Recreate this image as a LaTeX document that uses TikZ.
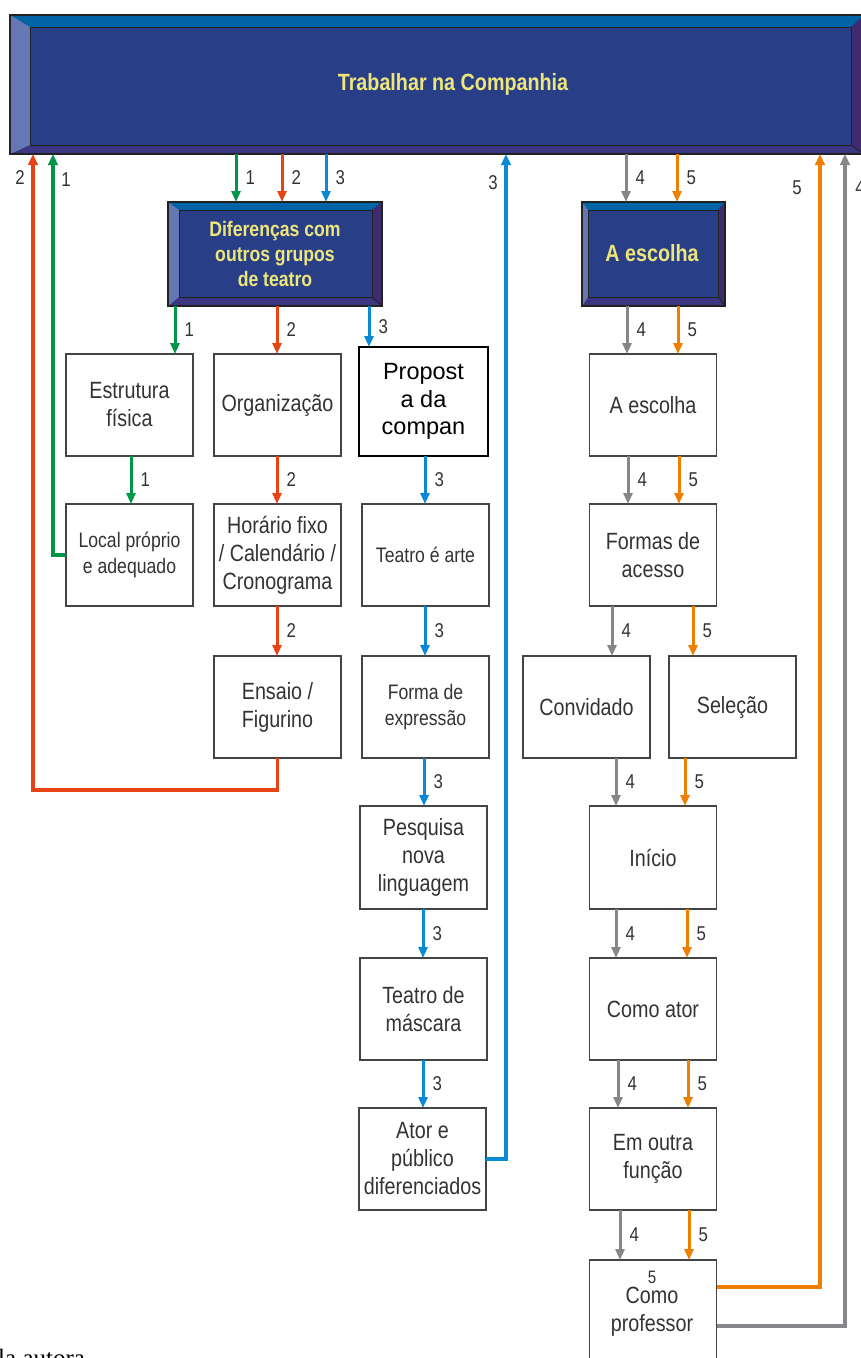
\documentclass[tikz,border=0pt]{standalone}
\usepackage{fontspec}
\setmainfont{Liberation Sans}
\newfontfamily\nar[FakeStretch=0.84]{Liberation Sans}
\newfontfamily\serifx{Liberation Serif}
\usetikzlibrary{arrows.meta}
\definecolor{cgreen}{HTML}{009648}
\definecolor{cred}{HTML}{E64414}
\definecolor{cblue}{HTML}{0A8AD4}
\definecolor{cgray}{HTML}{85878A}
\definecolor{corange}{HTML}{EE7F00}
\definecolor{dkfill}{HTML}{283F88}
\definecolor{bvtop}{HTML}{0064A6}
\definecolor{bvleft}{HTML}{6678B4}
\definecolor{bvbot}{HTML}{3B3682}
\definecolor{bvright}{HTML}{3F2B70}
\definecolor{dkedge}{HTML}{222222}
\definecolor{ylw}{HTML}{EEE67A}
\definecolor{txt}{HTML}{333333}
\definecolor{boxedge}{HTML}{444444}
\newcommand\bevelbox[9]{%
  \fill[bvbot] (#2,#3) rectangle (#4,#5);
  \fill[bvtop] (#2,#3) -- (#4,#3) -- (#8,#7) -- (#6,#7) -- cycle;
  \fill[bvleft] (#2,#3) -- (#6,#7) -- (#6,#9) -- (#2,#5) -- cycle;
  \fill[bvright] (#4,#3) -- (#8,#7) -- (#8,#9) -- (#4,#5) -- cycle;
  \draw[dkedge, line width=0.8pt] (#8,#9) -- (#4,#5);
  \filldraw[fill=dkfill, draw=dkedge, line width=1pt] (#6,#7) rectangle (#8,#9);
  \node[draw=dkedge, line width=1.2pt, inner sep=0pt, outer sep=0pt,
        minimum width={(#4)-(#2)}, minimum height={(#5)-(#3)}]
        (#1) at ({((#2)+(#4))/2},{((#3)+(#5))/2}) {};
}
\tikzset{
  bx/.style={draw=boxedge, line width=1.3pt, fill=white, inner sep=0pt, outer sep=0pt,
    align=center, text=txt, font=\nar\fontsize{23.5}{28}\selectfont,
    minimum width=127pt, minimum height=102pt},
  bxs/.style={bx, font=\nar\fontsize{21}{26}\selectfont},
  lab/.style={inner sep=0pt, text=txt, font=\nar\fontsize{20}{20}\selectfont},
  ttl/.style={inner sep=0pt, text=ylw, align=center, font=\nar\bfseries\fontsize{23.5}{25}\selectfont},
  con/.style={line width=3pt, -{Triangle[length=11pt,width=9pt]}},
  ret/.style={line width=3.6pt, -{Triangle[length=11pt,width=9.5pt]}},
  rl/.style={lab, right=8pt},
}
\begin{document}
\begin{tikzpicture}[x=1pt, y=-1pt]
\useasboundingbox (0,0) rectangle (860,1358);

% dark bevelled boxes
\bevelbox{top}{10}{15}{864}{154}{30}{27}{851}{145}
\bevelbox{dif}{168}{202}{382}{306}{179}{210}{372}{297}
\bevelbox{esc}{582}{202}{725}{306}{588}{210}{718}{297}
\node[ttl] (toptx) at (453,84) {Trabalhar na Companhia};
\node[ttl, font=\nar\bfseries\fontsize{21}{25}\selectfont] (diftx) at (275,253.5) {Diferenças com\\outros grupos\\de teatro};
\node[ttl] (esctx) at (652,253) {A escolha};

% white boxes
\node[bx] (est) at (129.5,405) {Estrutura\\física};
\node[bx] (org) at (277.5,405) {Organização};
\node[bx, draw=black, line width=2pt, text=black, font=\fontsize{23.5}{27.5}\selectfont,
      minimum width=129pt, minimum height=109pt] (prop) at (423.5,401.5) {Propost\\a da\\compan};
\node[bxs] (loc) at (129.5,555) {Local próprio\\e adequado};
\node[bx] (hor) at (277.5,555) {Horário fixo\\/ Calendário /\\Cronograma};
\node[bxs] (tea) at (425.5,555) {Teatro é arte};
\node[bx] (ens) at (277.5,707) {Ensaio /\\Figurino};
\node[bxs] (fex) at (425.5,707) {Forma de\\expressão};
\node[bx, minimum height=103pt] (pes) at (423.5,857.5) {Pesquisa\\nova\\linguagem};
\node[bx] (mas) at (423.5,1009) {Teatro de\\máscara};
\node[bx] (atp) at (422.5,1159) {Ator e\\público\\diferenciados};
\node[bx] (esc2) at (653,405) {A escolha};
\node[bx] (acs) at (653,555) {Formas de\\acesso};
\node[bx] (conv) at (586.5,707) {Convidado};
\node[bx] (sel) at (732.5,707) {Seleção};
\node[bx, minimum height=103pt] (ini) at (653,857.5) {Início};
\node[bx] (cat) at (653,1009) {Como ator};
\node[bx] (out) at (653,1159) {Em outra\\função};
\node[bx, minimum height=110pt] (prof) at (653,1315) {};
\node[lab, font=\nar\fontsize{18}{18}\selectfont] (p5) at (652,1277) {5};
\node[inner sep=0pt, text=txt, align=center, font=\nar\fontsize{23.5}{28}\selectfont] (ptx) at (652,1312) {Como\\professor};

% top -> dif / esc
\draw[con, cgreen] (236,0 |- top.south) -- node[rl] (t1) {1} (236,0 |- dif.north);
\draw[con, cred] (282,0 |- top.south) -- node[rl] (t2) {2} (282,0 |- dif.north);
\draw[con, cblue] (326,0 |- top.south) -- node[rl] (t3) {3} (326,0 |- dif.north);
\draw[con, cgray] (626,0 |- top.south) -- node[rl] (t4) {4} (626,0 |- esc.north);
\draw[con, corange] (677,0 |- top.south) -- node[rl] (t5) {5} (677,0 |- esc.north);

% left branches
\draw[con, cgreen] (175,0 |- dif.south) -- node[rl] (a1) {1} (175,0 |- est.north);
\draw[con, cred] (277,0 |- dif.south) -- node[rl] (a2) {2} (277,0 |- org.north);
\draw[con, cblue] (369,0 |- dif.south) -- node[rl] (a3) {3} (369,0 |- prop.north);
\draw[con, cgreen] (131,0 |- est.south) -- node[rl] (b1) {1} (131,0 |- loc.north);
\draw[con, cred] (277,0 |- org.south) -- node[rl] (b2) {2} (277,0 |- hor.north);
\draw[con, cblue] (425,0 |- prop.south) -- node[rl] (b3) {3} (425,0 |- tea.north);
\draw[con, cred] (277,0 |- hor.south) -- node[rl] (c2) {2} (277,0 |- ens.north);
\draw[con, cblue] (425,0 |- tea.south) -- node[rl] (c3) {3} (425,0 |- fex.north);
\draw[con, cblue] (424,0 |- fex.south) -- node[rl] (d3) {3} (424,0 |- pes.north);
\draw[con, cblue] (423,0 |- pes.south) -- node[rl] (e3) {3} (423,0 |- mas.north);
\draw[con, cblue] (423,0 |- mas.south) -- node[rl] (f3) {3} (423,0 |- atp.north);

% right branches
\draw[con, cgray] (627,0 |- esc.south) -- node[rl] (g4) {4} (627,0 |- esc2.north);
\draw[con, corange] (678,0 |- esc.south) -- node[rl] (g5) {5} (678,0 |- esc2.north);
\draw[con, cgray] (628,0 |- esc2.south) -- node[rl] (h4) {4} (628,0 |- acs.north);
\draw[con, corange] (679,0 |- esc2.south) -- node[rl] (h5) {5} (679,0 |- acs.north);
\draw[con, cgray] (612,0 |- acs.south) -- node[rl] (i4) {4} (612,0 |- conv.north);
\draw[con, corange] (693,0 |- acs.south) -- node[rl] (i5) {5} (693,0 |- sel.north);
\draw[con, cgray] (616,0 |- conv.south) -- node[rl] (j4) {4} (616,0 |- ini.north);
\draw[con, corange] (685,0 |- sel.south) -- node[rl] (j5) {5} (685,0 |- ini.north);
\draw[con, cgray] (616,0 |- ini.south) -- node[rl] (k4) {4} (616,0 |- cat.north);
\draw[con, corange] (687,0 |- ini.south) -- node[rl] (k5) {5} (687,0 |- cat.north);
\draw[con, cgray] (618,0 |- cat.south) -- node[rl] (m4) {4} (618,0 |- out.north);
\draw[con, corange] (688,0 |- cat.south) -- node[rl] (m5) {5} (688,0 |- out.north);
\draw[con, cgray] (620,0 |- out.south) -- node[rl] (n4) {4} (620,0 |- prof.north);
\draw[con, corange] (689,0 |- out.south) -- node[rl] (n5) {5} (689,0 |- prof.north);

% return lines to the top box
\draw[ret, cgreen] (loc.west) -| (53,0 |- top.south);
\draw[ret, cred] (ens.south) |- (33,790) -- (33,0 |- top.south);
\draw[ret, cblue] (atp.east) -| (506,0 |- top.south);
\draw[ret, corange] (prof.east |- 0,1287) -| (820,0 |- top.south);
\draw[ret, cgray] (prof.east |- 0,1326) -| (845,0 |- top.south);
\node[lab] (r2) at (20,178) {2};
\node[lab] (r1) at (66,180) {1};
\node[lab] (r3) at (493,183) {3};
\node[lab] (r5) at (797,188) {5};
\node[lab] (r4) at (860,188) {4};

% source note (cut by the page edge)
\node[anchor=base west, inner sep=0pt, font=\serifx\fontsize{25}{25}\selectfont] (src) at (-2,1366) {la autora};
\end{tikzpicture}
\end{document}
